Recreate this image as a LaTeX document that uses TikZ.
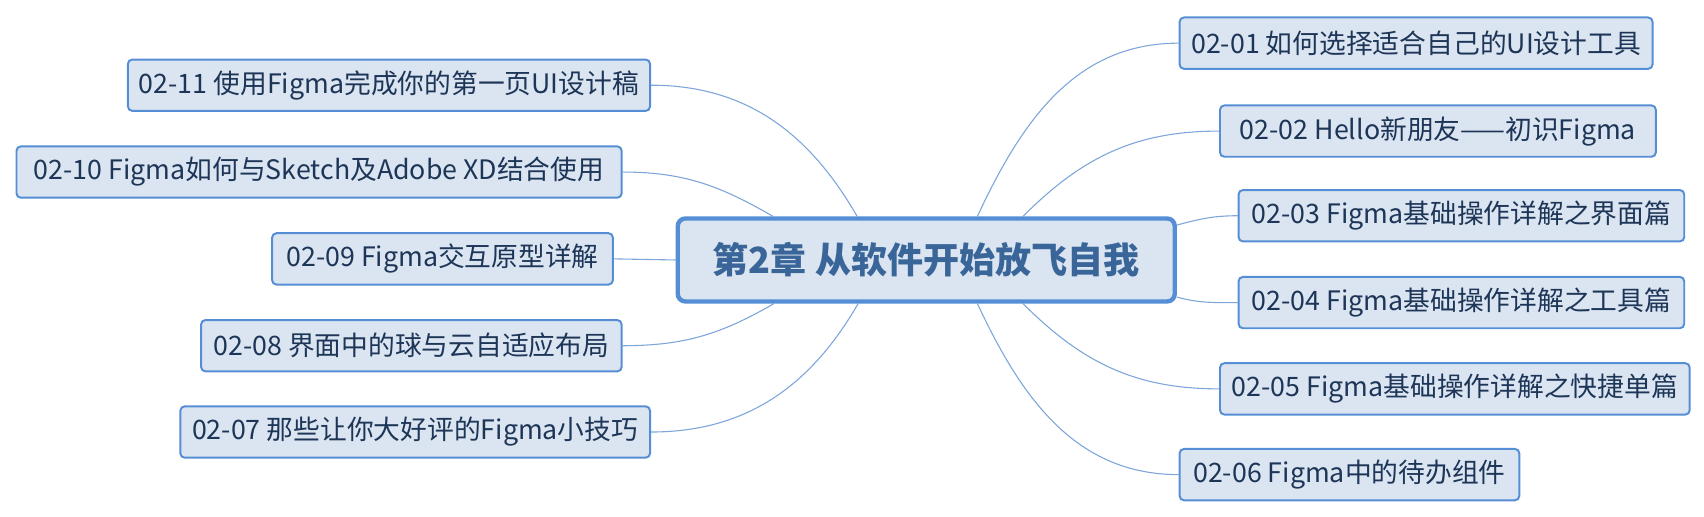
\documentclass[tikz,border=0pt]{standalone}
\usepackage{fontspec}
\setmainfont{Noto Sans CJK SC}
\usetikzlibrary{calc,backgrounds}
\definecolor{boxfill}{HTML}{DBE5F1}
\definecolor{boxline}{HTML}{558ED5}
\definecolor{txt}{HTML}{1D3557}
\definecolor{roottxt}{HTML}{3A6599}
\definecolor{wirec}{HTML}{7EA6DA}
\begin{document}
\begin{tikzpicture}[x=1pt,y=-1pt,
  topic/.style={draw=boxline, fill=boxfill, line width=1.8pt, rounded corners=4pt,
    minimum height=47pt, inner xsep=0pt, inner ysep=0pt,
    font=\fontsize{24.5}{28}\selectfont, text=txt},
  rootbox/.style={draw=boxline, fill=boxfill, line width=4pt, rounded corners=7pt,
    minimum width=455pt, minimum height=76pt, inner sep=0pt,
    font=\bfseries\fontsize{33}{38}\selectfont, text=roottxt},
  wire/.style={draw=wirec, line width=1pt}]
\useasboundingbox (0,0) rectangle (1560,472.4);
% root
\node[rootbox] (r) at (848,238) {第2章 从软件开始放飞自我};
% right children
\node[topic, minimum width=433pt, anchor=west] (c01) at (1079,39.5) {02-01 如何选择适合自己的UI设计工具};
\node[topic, minimum width=399pt, anchor=west] (c02) at (1116,120) {02-02 Hello新朋友——初识Figma};
\node[topic, minimum width=408pt, anchor=west] (c03) at (1133,197.5) {02-03 Figma基础操作详解之界面篇};
\node[topic, minimum width=408pt, anchor=west] (c04) at (1133,277) {02-04 Figma基础操作详解之工具篇};
\node[topic, minimum width=430pt, anchor=west] (c05) at (1116,356) {02-05 Figma基础操作详解之快捷单篇};
\node[topic, minimum width=311pt, anchor=west] (c06) at (1079,434.5) {02-06 Figma中的待办组件};
% left children
\node[topic, minimum width=478pt, anchor=east] (c11) at (596,78) {02-11 使用Figma完成你的第一页UI设计稿};
\node[topic, minimum width=554pt, anchor=east] (c10) at (570,157.5) {02-10 Figma如何与Sketch及Adobe XD结合使用};
\node[topic, minimum width=312pt, anchor=east] (c09) at (562,237) {02-09 Figma交互原型详解};
\node[topic, minimum width=385pt, anchor=east] (c08) at (570,316.5) {02-08 界面中的球与云自适应布局};
\node[topic, minimum width=430pt, anchor=east] (c07) at (596,395.5) {02-07 那些让你大好评的Figma小技巧};
% connectors
\begin{scope}[on background layer]
\draw[wire] ($(r.north west)!0.362!(r.north east)$) to[out=120,in=0] (c11.east);
\draw[wire] ($(r.north west)!0.194!(r.north east)$) to[out=150,in=0] (c10.east);
\draw[wire] (r.west) -- (c09.east);
\draw[wire] ($(r.south west)!0.196!(r.south east)$) to[out=210,in=0] (c08.east);
\draw[wire] ($(r.south west)!0.364!(r.south east)$) to[out=240,in=0] (c07.east);
\draw[wire] ($(r.north west)!0.602!(r.north east)$) to[out=65,in=180] (c01.west);
\draw[wire] ($(r.north west)!0.693!(r.north east)$) to[out=45,in=180] (c02.west);
\draw[wire] ($(r.north east)!0.1!(r.south east)$) to[out=15,in=180] (c03.west);
\draw[wire] ($(r.north east)!0.925!(r.south east)$) to[out=-15,in=180] (c04.west);
\draw[wire] ($(r.south west)!0.693!(r.south east)$) to[out=-45,in=180] (c05.west);
\draw[wire] ($(r.south west)!0.602!(r.south east)$) to[out=-65,in=180] (c06.west);
\end{scope}
\end{tikzpicture}
\end{document}
